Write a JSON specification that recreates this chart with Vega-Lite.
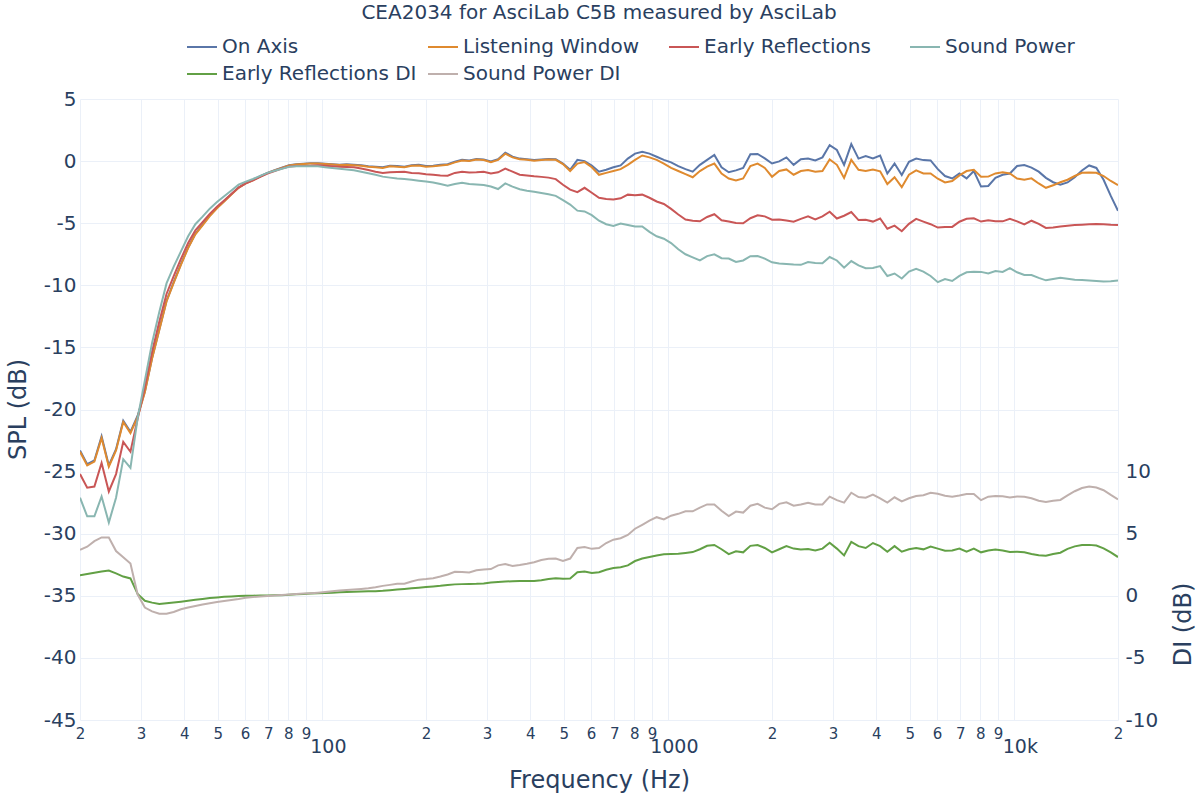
{
"$schema": "https://vega.github.io/schema/vega-lite/v6.json",
"width": 1038, "height": 621,
"autosize": {"type": "none"},
"padding": {"left": 80, "top": 99, "right": 82, "bottom": 80},
"background": "white",
"config": {"font": "DejaVu Sans", "view": {"stroke": null}},
"title": {"text": "CEA2034 for AsciLab C5B measured by AsciLab", "fontSize": 20, "fontWeight": "normal", "color": "#2a3f5f", "anchor": "middle", "frame": "group", "offset": 8},
"data": {"values": [
{"f":20,"on":-23.3,"lw":-23.4,"er":-25.2,"sp":-27.1,"erdi":1.65,"spdi":3.7},
{"f":20.98,"on":-24.4,"lw":-24.5,"er":-26.3,"sp":-28.6,"erdi":1.75,"spdi":3.95},
{"f":22.01,"on":-24.1,"lw":-24.2,"er":-26.2,"sp":-28.6,"erdi":1.85,"spdi":4.4},
{"f":23.09,"on":-22.15,"lw":-22.3,"er":-24.3,"sp":-27.0,"erdi":1.95,"spdi":4.7},
{"f":24.23,"on":-24.5,"lw":-24.6,"er":-26.6,"sp":-29.1,"erdi":2.03,"spdi":4.7},
{"f":25.42,"on":-23.2,"lw":-23.3,"er":-25.2,"sp":-27.1,"erdi":1.8,"spdi":3.6},
{"f":26.67,"on":-20.9,"lw":-21.0,"er":-22.6,"sp":-24.0,"erdi":1.55,"spdi":3.1},
{"f":27.98,"on":-21.8,"lw":-21.9,"er":-23.4,"sp":-24.7,"erdi":1.4,"spdi":2.6},
{"f":29.35,"on":-20.5,"lw":-20.6,"er":-20.75,"sp":-20.7,"erdi":0.15,"spdi":0.1},
{"f":30.8,"on":-18.55,"lw":-18.6,"er":-18.2,"sp":-17.65,"erdi":-0.4,"spdi":-0.95},
{"f":32.31,"on":-15.85,"lw":-15.9,"er":-15.35,"sp":-14.65,"erdi":-0.55,"spdi":-1.25},
{"f":33.9,"on":-13.55,"lw":-13.6,"er":-12.94,"sp":-12.15,"erdi":-0.66,"spdi":-1.45},
{"f":35.57,"on":-11.25,"lw":-11.3,"er":-10.7,"sp":-9.85,"erdi":-0.6,"spdi":-1.45},
{"f":37.31,"on":-9.75,"lw":-9.8,"er":-9.27,"sp":-8.5,"erdi":-0.53,"spdi":-1.3},
{"f":39.15,"on":-8.3,"lw":-8.35,"er":-7.88,"sp":-7.27,"erdi":-0.47,"spdi":-1.08},
{"f":41.07,"on":-6.95,"lw":-7.0,"er":-6.6,"sp":-6.05,"erdi":-0.4,"spdi":-0.95},
{"f":43.09,"on":-5.85,"lw":-5.9,"er":-5.58,"sp":-5.08,"erdi":-0.32,"spdi":-0.82},
{"f":45.21,"on":-5.12,"lw":-5.17,"er":-4.92,"sp":-4.47,"erdi":-0.25,"spdi":-0.7},
{"f":47.43,"on":-4.38,"lw":-4.43,"er":-4.25,"sp":-3.83,"erdi":-0.18,"spdi":-0.6},
{"f":49.76,"on":-3.76,"lw":-3.8,"er":-3.67,"sp":-3.3,"erdi":-0.13,"spdi":-0.5},
{"f":52.2,"on":-3.21,"lw":-3.25,"er":-3.17,"sp":-2.83,"erdi":-0.08,"spdi":-0.42},
{"f":54.77,"on":-2.66,"lw":-2.7,"er":-2.65,"sp":-2.37,"erdi":-0.05,"spdi":-0.33},
{"f":57.46,"on":-2.12,"lw":-2.15,"er":-2.13,"sp":-1.9,"erdi":-0.02,"spdi":-0.25},
{"f":60.28,"on":-1.77,"lw":-1.8,"er":-1.8,"sp":-1.65,"erdi":0.0,"spdi":-0.15},
{"f":63.25,"on":-1.51,"lw":-1.54,"er":-1.55,"sp":-1.44,"erdi":0.01,"spdi":-0.1},
{"f":66.35,"on":-1.22,"lw":-1.25,"er":-1.27,"sp":-1.19,"erdi":0.02,"spdi":-0.06},
{"f":69.61,"on":-0.95,"lw":-0.97,"er":-1.0,"sp":-0.95,"erdi":0.03,"spdi":-0.02},
{"f":73.03,"on":-0.74,"lw":-0.76,"er":-0.8,"sp":-0.78,"erdi":0.04,"spdi":0.02},
{"f":76.62,"on":-0.53,"lw":-0.55,"er":-0.6,"sp":-0.61,"erdi":0.05,"spdi":0.06},
{"f":80.39,"on":-0.33,"lw":-0.35,"er":-0.44,"sp":-0.45,"erdi":0.09,"spdi":0.1},
{"f":84.34,"on":-0.26,"lw":-0.28,"er":-0.4,"sp":-0.42,"erdi":0.12,"spdi":0.14},
{"f":88.48,"on":-0.22,"lw":-0.24,"er":-0.39,"sp":-0.42,"erdi":0.15,"spdi":0.18},
{"f":92.83,"on":-0.18,"lw":-0.2,"er":-0.38,"sp":-0.41,"erdi":0.18,"spdi":0.21},
{"f":97.39,"on":-0.18,"lw":-0.2,"er":-0.33,"sp":-0.42,"erdi":0.2,"spdi":0.25},
{"f":102.18,"on":-0.22,"lw":-0.24,"er":-0.38,"sp":-0.5,"erdi":0.23,"spdi":0.3},
{"f":107.2,"on":-0.26,"lw":-0.28,"er":-0.42,"sp":-0.56,"erdi":0.25,"spdi":0.36},
{"f":112.47,"on":-0.3,"lw":-0.32,"er":-0.45,"sp":-0.62,"erdi":0.28,"spdi":0.42},
{"f":117.99,"on":-0.26,"lw":-0.3,"er":-0.47,"sp":-0.68,"erdi":0.3,"spdi":0.46},
{"f":123.79,"on":-0.29,"lw":-0.33,"er":-0.5,"sp":-0.74,"erdi":0.32,"spdi":0.5},
{"f":129.88,"on":-0.34,"lw":-0.38,"er":-0.6,"sp":-0.85,"erdi":0.34,"spdi":0.55},
{"f":136.26,"on":-0.41,"lw":-0.45,"er":-0.72,"sp":-0.98,"erdi":0.36,"spdi":0.6},
{"f":142.95,"on":-0.45,"lw":-0.5,"er":-0.85,"sp":-1.1,"erdi":0.37,"spdi":0.68},
{"f":149.98,"on":-0.5,"lw":-0.55,"er":-0.95,"sp":-1.25,"erdi":0.4,"spdi":0.8},
{"f":157.35,"on":-0.37,"lw":-0.42,"er":-0.9,"sp":-1.33,"erdi":0.45,"spdi":0.88},
{"f":165.08,"on":-0.4,"lw":-0.45,"er":-0.88,"sp":-1.4,"erdi":0.5,"spdi":0.97},
{"f":173.19,"on":-0.45,"lw":-0.5,"er":-0.85,"sp":-1.45,"erdi":0.55,"spdi":0.97},
{"f":181.7,"on":-0.33,"lw":-0.38,"er":-0.95,"sp":-1.5,"erdi":0.6,"spdi":1.15},
{"f":190.63,"on":-0.3,"lw":-0.35,"er":-0.98,"sp":-1.58,"erdi":0.65,"spdi":1.3},
{"f":200,"on":-0.4,"lw":-0.45,"er":-1.05,"sp":-1.65,"erdi":0.7,"spdi":1.35},
{"f":209.8,"on":-0.37,"lw":-0.42,"er":-1.1,"sp":-1.72,"erdi":0.75,"spdi":1.42},
{"f":220.1,"on":-0.3,"lw":-0.35,"er":-1.15,"sp":-1.85,"erdi":0.8,"spdi":1.55},
{"f":231.0,"on":-0.25,"lw":-0.3,"er":-1.18,"sp":-1.98,"erdi":0.87,"spdi":1.72},
{"f":242.3,"on":-0.05,"lw":-0.1,"er":-0.95,"sp":-1.85,"erdi":0.92,"spdi":1.93},
{"f":254.2,"on":0.1,"lw":0.05,"er":-0.85,"sp":-1.75,"erdi":0.94,"spdi":1.92},
{"f":266.7,"on":0.05,"lw":0.0,"er":-0.92,"sp":-1.85,"erdi":0.96,"spdi":1.88},
{"f":279.8,"on":0.17,"lw":0.12,"er":-0.9,"sp":-1.88,"erdi":0.97,"spdi":2.05},
{"f":293.6,"on":0.13,"lw":0.08,"er":-0.86,"sp":-1.92,"erdi":1.0,"spdi":2.12},
{"f":308.0,"on":-0.03,"lw":-0.08,"er":-1.0,"sp":-2.05,"erdi":1.07,"spdi":2.15},
{"f":323.1,"on":0.15,"lw":0.1,"er":-0.9,"sp":-2.25,"erdi":1.12,"spdi":2.45},
{"f":339.0,"on":0.68,"lw":0.6,"er":-0.6,"sp":-1.8,"erdi":1.15,"spdi":2.55},
{"f":355.7,"on":0.36,"lw":0.3,"er":-0.85,"sp":-2.05,"erdi":1.17,"spdi":2.4},
{"f":373.1,"on":0.2,"lw":0.15,"er":-1.1,"sp":-2.27,"erdi":1.2,"spdi":2.48},
{"f":391.5,"on":0.15,"lw":0.1,"er":-1.15,"sp":-2.38,"erdi":1.2,"spdi":2.58},
{"f":410.7,"on":0.08,"lw":0.03,"er":-1.22,"sp":-2.47,"erdi":1.2,"spdi":2.7},
{"f":430.9,"on":0.13,"lw":0.08,"er":-1.27,"sp":-2.57,"erdi":1.26,"spdi":2.88},
{"f":452.1,"on":0.17,"lw":0.12,"er":-1.33,"sp":-2.67,"erdi":1.35,"spdi":2.98},
{"f":474.3,"on":0.15,"lw":0.1,"er":-1.45,"sp":-2.8,"erdi":1.42,"spdi":3.0},
{"f":497.6,"on":-0.2,"lw":-0.24,"er":-1.9,"sp":-3.15,"erdi":1.38,"spdi":2.8},
{"f":522.0,"on":-0.7,"lw":-0.8,"er":-2.3,"sp":-3.5,"erdi":1.4,"spdi":3.0},
{"f":547.7,"on":0.1,"lw":-0.2,"er":-2.5,"sp":-3.99,"erdi":1.9,"spdi":3.85},
{"f":574.6,"on":0.0,"lw":-0.08,"er":-2.15,"sp":-4.05,"erdi":1.95,"spdi":3.92},
{"f":602.8,"on":-0.35,"lw":-0.5,"er":-2.55,"sp":-4.35,"erdi":1.83,"spdi":3.78},
{"f":632.5,"on":-0.85,"lw":-1.1,"er":-2.95,"sp":-4.8,"erdi":1.9,"spdi":3.85},
{"f":663.5,"on":-0.7,"lw":-0.95,"er":-3.05,"sp":-5.08,"erdi":2.1,"spdi":4.25},
{"f":696.1,"on":-0.5,"lw":-0.8,"er":-3.1,"sp":-5.22,"erdi":2.24,"spdi":4.52},
{"f":730.3,"on":-0.35,"lw":-0.65,"er":-3.0,"sp":-5.02,"erdi":2.3,"spdi":4.64},
{"f":766.2,"on":0.2,"lw":-0.3,"er":-2.7,"sp":-5.15,"erdi":2.45,"spdi":4.9},
{"f":803.9,"on":0.6,"lw":0.1,"er":-2.75,"sp":-5.27,"erdi":2.8,"spdi":5.4},
{"f":843.4,"on":0.75,"lw":0.45,"er":-2.7,"sp":-5.27,"erdi":3.0,"spdi":5.72},
{"f":884.8,"on":0.6,"lw":0.3,"er":-2.95,"sp":-5.7,"erdi":3.12,"spdi":6.05},
{"f":928.3,"on":0.35,"lw":0.1,"er":-3.25,"sp":-6.05,"erdi":3.25,"spdi":6.33},
{"f":973.9,"on":0.1,"lw":-0.2,"er":-3.45,"sp":-6.25,"erdi":3.34,"spdi":6.15},
{"f":1021.8,"on":-0.1,"lw":-0.55,"er":-3.85,"sp":-6.6,"erdi":3.36,"spdi":6.45},
{"f":1072.0,"on":-0.4,"lw":-0.8,"er":-4.3,"sp":-7.1,"erdi":3.39,"spdi":6.6},
{"f":1124.7,"on":-0.65,"lw":-1.05,"er":-4.7,"sp":-7.5,"erdi":3.45,"spdi":6.8},
{"f":1179.9,"on":-0.85,"lw":-1.3,"er":-4.8,"sp":-7.75,"erdi":3.52,"spdi":6.8},
{"f":1237.9,"on":-0.3,"lw":-0.8,"er":-4.85,"sp":-8.0,"erdi":3.75,"spdi":7.1},
{"f":1298.8,"on":0.1,"lw":-0.45,"er":-4.5,"sp":-7.65,"erdi":4.03,"spdi":7.36},
{"f":1362.6,"on":0.5,"lw":-0.2,"er":-4.28,"sp":-7.5,"erdi":4.09,"spdi":7.36},
{"f":1429.5,"on":-0.5,"lw":-1.0,"er":-4.76,"sp":-7.82,"erdi":3.75,"spdi":6.85},
{"f":1499.8,"on":-0.9,"lw":-1.4,"er":-4.86,"sp":-7.85,"erdi":3.35,"spdi":6.42},
{"f":1573.4,"on":-0.75,"lw":-1.55,"er":-4.98,"sp":-8.12,"erdi":3.58,"spdi":6.78},
{"f":1650.8,"on":-0.55,"lw":-1.4,"er":-5.0,"sp":-8.0,"erdi":3.5,"spdi":6.7},
{"f":1731.9,"on":0.55,"lw":-0.4,"er":-4.6,"sp":-7.66,"erdi":4.02,"spdi":7.25},
{"f":1817.0,"on":0.58,"lw":-0.2,"er":-4.36,"sp":-7.64,"erdi":4.09,"spdi":7.4},
{"f":1906.3,"on":0.22,"lw":-0.55,"er":-4.45,"sp":-7.85,"erdi":3.85,"spdi":7.1},
{"f":2000,"on":-0.19,"lw":-1.26,"er":-4.72,"sp":-8.15,"erdi":3.5,"spdi":6.97},
{"f":2098.3,"on":-0.02,"lw":-0.8,"er":-4.7,"sp":-8.25,"erdi":3.75,"spdi":7.4},
{"f":2201.4,"on":0.3,"lw":-0.67,"er":-4.78,"sp":-8.29,"erdi":4.0,"spdi":7.53},
{"f":2309.6,"on":-0.3,"lw":-1.1,"er":-4.88,"sp":-8.33,"erdi":3.8,"spdi":7.25},
{"f":2423.1,"on":0.15,"lw":-0.8,"er":-4.65,"sp":-8.35,"erdi":3.72,"spdi":7.35},
{"f":2542.1,"on":0.2,"lw":-0.72,"er":-4.45,"sp":-8.12,"erdi":3.76,"spdi":7.48},
{"f":2667.0,"on":0.05,"lw":-0.85,"er":-4.7,"sp":-8.2,"erdi":3.65,"spdi":7.35},
{"f":2798.1,"on":0.3,"lw":-0.8,"er":-4.45,"sp":-8.23,"erdi":3.8,"spdi":7.35},
{"f":2935.6,"on":1.29,"lw":0.14,"er":-4.08,"sp":-7.72,"erdi":4.27,"spdi":7.98},
{"f":3079.9,"on":0.89,"lw":-0.3,"er":-4.62,"sp":-8.0,"erdi":3.8,"spdi":7.7},
{"f":3231.2,"on":-0.3,"lw":-1.35,"er":-4.4,"sp":-8.58,"erdi":3.25,"spdi":7.5},
{"f":3389.9,"on":1.37,"lw":0.1,"er":-4.1,"sp":-8.05,"erdi":4.34,"spdi":8.3},
{"f":3556.6,"on":0.2,"lw":-0.7,"er":-4.75,"sp":-8.4,"erdi":4.0,"spdi":7.95},
{"f":3731.4,"on":0.4,"lw":-0.8,"er":-4.72,"sp":-8.62,"erdi":3.85,"spdi":7.9},
{"f":3914.8,"on":0.22,"lw":-0.67,"er":-4.87,"sp":-8.61,"erdi":4.25,"spdi":8.15},
{"f":4107.2,"on":0.45,"lw":-0.82,"er":-4.62,"sp":-8.45,"erdi":4.0,"spdi":7.85},
{"f":4309.1,"on":-1.0,"lw":-1.85,"er":-5.45,"sp":-9.25,"erdi":3.55,"spdi":7.5},
{"f":4520.9,"on":-0.2,"lw":-1.3,"er":-5.2,"sp":-9.05,"erdi":4.0,"spdi":7.93},
{"f":4743.1,"on":-1.12,"lw":-2.1,"er":-5.65,"sp":-9.45,"erdi":3.55,"spdi":7.6},
{"f":4976.2,"on":-0.05,"lw":-1.1,"er":-5.05,"sp":-8.9,"erdi":3.75,"spdi":7.85},
{"f":5220.3,"on":0.2,"lw":-0.75,"er":-4.65,"sp":-8.68,"erdi":3.84,"spdi":8.04},
{"f":5477.0,"on":0.08,"lw":-0.99,"er":-4.87,"sp":-8.9,"erdi":3.74,"spdi":8.1},
{"f":5746.3,"on":0.05,"lw":-1.0,"er":-5.08,"sp":-9.25,"erdi":3.97,"spdi":8.3},
{"f":6028.8,"on":-0.65,"lw":-1.42,"er":-5.35,"sp":-9.75,"erdi":3.8,"spdi":8.22},
{"f":6325.0,"on":-1.2,"lw":-1.72,"er":-5.3,"sp":-9.5,"erdi":3.63,"spdi":8.05},
{"f":6635.0,"on":-1.4,"lw":-1.6,"er":-5.3,"sp":-9.65,"erdi":3.65,"spdi":7.98},
{"f":6961.0,"on":-0.99,"lw":-1.15,"er":-4.88,"sp":-9.24,"erdi":3.8,"spdi":8.08},
{"f":7303.0,"on":-1.39,"lw":-0.8,"er":-4.65,"sp":-8.95,"erdi":3.55,"spdi":8.2},
{"f":7662.0,"on":-0.8,"lw":-0.7,"er":-4.6,"sp":-8.9,"erdi":3.8,"spdi":8.2},
{"f":8039.0,"on":-2.05,"lw":-1.26,"er":-4.87,"sp":-8.92,"erdi":3.5,"spdi":7.7},
{"f":8434.0,"on":-2.0,"lw":-1.25,"er":-4.77,"sp":-9.05,"erdi":3.65,"spdi":7.98},
{"f":8848.0,"on":-1.35,"lw":-0.99,"er":-4.85,"sp":-8.85,"erdi":3.72,"spdi":8.04},
{"f":9283.0,"on":-1.1,"lw":-0.9,"er":-4.85,"sp":-8.92,"erdi":3.65,"spdi":8.02},
{"f":9739.0,"on":-1.0,"lw":-1.0,"er":-4.65,"sp":-8.62,"erdi":3.52,"spdi":7.92},
{"f":10218,"on":-0.4,"lw":-1.4,"er":-4.85,"sp":-8.95,"erdi":3.55,"spdi":8.0},
{"f":10720,"on":-0.32,"lw":-1.5,"er":-5.1,"sp":-9.17,"erdi":3.5,"spdi":7.97},
{"f":11247,"on":-0.52,"lw":-1.39,"er":-4.8,"sp":-9.17,"erdi":3.37,"spdi":7.85},
{"f":11799,"on":-0.85,"lw":-1.8,"er":-5.05,"sp":-9.4,"erdi":3.27,"spdi":7.65},
{"f":12379,"on":-1.35,"lw":-2.15,"er":-5.38,"sp":-9.6,"erdi":3.22,"spdi":7.55},
{"f":12988,"on":-1.7,"lw":-1.95,"er":-5.35,"sp":-9.5,"erdi":3.36,"spdi":7.66},
{"f":13626,"on":-1.9,"lw":-1.7,"er":-5.27,"sp":-9.4,"erdi":3.47,"spdi":7.72},
{"f":14295,"on":-1.72,"lw":-1.5,"er":-5.2,"sp":-9.48,"erdi":3.78,"spdi":8.08},
{"f":14998,"on":-1.3,"lw":-1.2,"er":-5.15,"sp":-9.55,"erdi":3.98,"spdi":8.42},
{"f":15735,"on":-0.75,"lw":-0.94,"er":-5.12,"sp":-9.58,"erdi":4.09,"spdi":8.68},
{"f":16508,"on":-0.35,"lw":-0.92,"er":-5.08,"sp":-9.62,"erdi":4.1,"spdi":8.8},
{"f":17319,"on":-0.55,"lw":-0.94,"er":-5.06,"sp":-9.66,"erdi":4.05,"spdi":8.72},
{"f":18170,"on":-1.5,"lw":-1.2,"er":-5.08,"sp":-9.7,"erdi":3.82,"spdi":8.5},
{"f":19063,"on":-2.8,"lw":-1.6,"er":-5.12,"sp":-9.68,"erdi":3.5,"spdi":8.12},
{"f":20000,"on":-4.0,"lw":-1.93,"er":-5.14,"sp":-9.62,"erdi":3.12,"spdi":7.77}
]},
"layer": [
{
"transform": [{"fold": ["on", "lw", "er", "sp"], "as": ["series", "value"]}],
"mark": {"type": "line", "strokeWidth": 2, "clip": true},
"encoding": {
"x": {"field": "f", "type": "quantitative",
 "scale": {"type": "log", "domain": [20, 20000], "nice": false},
 "axis": {"title": "Frequency (Hz)", "titleFontSize": 24, "titleFontWeight": "normal", "titleColor": "#2a3f5f", "titleY": 48, "titlePadding": 0,
  "values": [20,30,40,50,60,70,80,90,100,200,300,400,500,600,700,800,900,1000,2000,3000,4000,5000,6000,7000,8000,9000,10000,20000],
  "labelExpr": "datum.value == 100 ? '100' : datum.value == 1000 ? '1000' : datum.value == 10000 ? '10k' : '' + round(datum.value / pow(10, floor(log(datum.value) / LN10 + 0.000001)))",
  "labelFontSize": {"condition": {"test": "datum.value == 100 || datum.value == 1000 || datum.value == 10000", "value": 19}, "value": 15},
  "labelPadding": {"condition": {"test": "datum.value == 100 || datum.value == 1000 || datum.value == 10000", "value": 17}, "value": 6},
  "labelOffset": {"condition": {"test": "datum.value == 100 || datum.value == 1000 || datum.value == 10000", "value": 6}, "value": 0},
  "labelColor": "#2a3f5f", "labelOverlap": false, "labelFlush": false,
  "domain": false, "ticks": false, "grid": true, "gridColor": "#ebf0f8", "gridWidth": 1}},
"y": {"field": "value", "type": "quantitative",
 "scale": {"domain": [-45, 5], "nice": false, "zero": false},
 "axis": {"title": "SPL (dB)", "titleFontSize": 24, "titleFontWeight": "normal", "titleColor": "#2a3f5f", "titleAngle": -90, "titleX": -62, "titleY": 310, "titleBaseline": "middle", "titleAlign": "center",
  "values": [-45,-40,-35,-30,-25,-20,-15,-10,-5,0,5], "labelExpr": "'' + datum.value", "labelFontSize": 20, "labelColor": "#2a3f5f", "labelPadding": 4,
  "domain": false, "ticks": false, "grid": true, "gridColor": "#ebf0f8", "gridWidth": 1}},
"color": {"field": "series", "type": "nominal",
 "scale": {"domain": ["on", "lw", "er", "sp", "erdi", "spdi"], "range": ["#5a76a8", "#df8a2f", "#c95656", "#89b6b1", "#62a045", "#bfb0ad"]},
 "legend": {"orient": "none", "legendX": 106, "legendY": -68, "direction": "horizontal", "columns": 4, "title": null,
  "symbolType": "stroke", "symbolSize": 900, "symbolStrokeWidth": 2, "labelFontSize": 20, "labelColor": "#2a3f5f", "labelOffset": 4,
  "columnPadding": 7, "rowPadding": 1, "gridAlign": "all", "labelLimit": 400, "padding": 0,
  "labelExpr": "datum.label == 'on' ? 'On Axis' : datum.label == 'lw' ? 'Listening Window' : datum.label == 'er' ? 'Early Reflections' : datum.label == 'sp' ? 'Sound Power' : datum.label == 'erdi' ? 'Early Reflections DI' : 'Sound Power DI'"}}
}
},
{
"transform": [{"fold": ["erdi", "spdi"], "as": ["series", "value"]}],
"mark": {"type": "line", "strokeWidth": 2, "clip": true},
"encoding": {
"x": {"field": "f", "type": "quantitative", "scale": {"type": "log", "domain": [20, 20000], "nice": false}},
"y": {"field": "value", "type": "quantitative",
 "scale": {"domain": [-10, 40], "nice": false, "zero": false},
 "axis": {"orient": "right", "title": "DI (dB)", "titleFontSize": 24, "titleFontWeight": "normal", "titleColor": "#2a3f5f", "titleAngle": -90, "titleX": 65, "titleY": 525, "titleBaseline": "middle", "titleAlign": "center",
  "values": [-10,-5,0,5,10], "labelExpr": "'' + datum.value", "labelFontSize": 20, "labelColor": "#2a3f5f", "labelPadding": 7,
  "domain": false, "ticks": false, "grid": false}},
"color": {"field": "series", "type": "nominal"}
}
}
],
"resolve": {"scale": {"y": "independent"}}
}
